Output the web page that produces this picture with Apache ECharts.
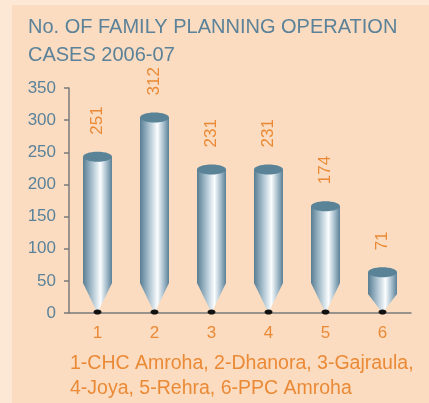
<!DOCTYPE html>
<html>
<head>
<meta charset="utf-8">
<script src="https://cdn.jsdelivr.net/npm/echarts@6/dist/echarts.min.js"></script>
<style>
  html, body { margin: 0; padding: 0; background: #fde7d5; }
  #main { width: 429px; height: 403px; }
</style>
</head>
<body>
<div id="main"></div>
<script>
var categories = ['1', '2', '3', '4', '5', '6'];
var cases = [251, 312, 231, 231, 174, 71];
var yTicks = [0, 50, 100, 150, 200, 250, 300, 350];
var titleText = 'No. OF FAMILY PLANNING OPERATION\nCASES 2006-07';
var noteText = '1-CHC Amroha, 2-Dhanora, 3-Gajraula,\n4-Joya, 5-Rehra, 6-PPC Amroha';

var blue = '#5b8299';
var orange = '#ea8a36';
var font = '"Liberation Sans", Arial, sans-serif';

var myChart = echarts.init(document.getElementById('main'));

// pencil shaped cylinder: cap, body, cone tip, black dot
function renderPencil(params, api) {
  var idx = api.value(0);
  var top = api.coord([idx, api.value(1)]);
  var base = api.coord([idx, 0]);
  var cx = top[0];
  var w = 29, rx = w / 2, ry = 5;
  var capY = top[1] + ry;
  var h = base[1] - capY;
  var cone = Math.min(30, h * 0.47);
  var tipStart = base[1] - cone;
  var grad = new echarts.graphic.LinearGradient(0, 0, 1, 0, [
    { offset: 0, color: '#587d92' },
    { offset: 0.3, color: '#a7bfcd' },
    { offset: 0.6, color: '#fbfdfe' },
    { offset: 0.82, color: '#a2bbca' },
    { offset: 1, color: '#5b8096' }
  ]);
  return {
    type: 'group',
    children: [
      {
        type: 'polygon',
        shape: { points: [[cx - rx, capY], [cx - rx, tipStart], [cx, base[1]], [cx + rx, tipStart], [cx + rx, capY]] },
        style: { fill: grad }
      },
      {
        type: 'ellipse',
        shape: { cx: cx, cy: capY, rx: rx, ry: ry },
        style: { fill: '#5a8398' }
      },
      {
        type: 'ellipse',
        shape: { cx: cx, cy: base[1] - 1, rx: 4, ry: 2.6 },
        style: { fill: '#111111' }
      },
      {
        type: 'text',
        x: cx,
        y: top[1] - 17,
        rotation: Math.PI / 2,
        style: {
          text: String(api.value(1)),
          fill: orange,
          font: '17px ' + font,
          textAlign: 'left',
          textVerticalAlign: 'middle'
        }
      }
    ]
  };
}

var option = {
  backgroundColor: '#fde7d5',
  animation: false,
  graphic: [
    {
      type: 'rect',
      shape: { x: 12, y: 5, width: 429, height: 403 },
      style: { fill: '#fbdcc0' },
      z: -10
    },
    {
      type: 'text',
      left: 70,
      top: 351,
      style: {
        text: noteText,
        fill: orange,
        font: '19.5px ' + font,
        lineHeight: 25
      }
    }
  ],
  title: {
    text: titleText,
    left: 23,
    top: 8,
    textStyle: {
      color: blue,
      fontFamily: font,
      fontSize: 20,
      fontWeight: 'normal',
      lineHeight: 28
    }
  },
  grid: { left: 69, right: 18, top: 88, bottom: 90 },
  xAxis: {
    type: 'category',
    data: categories,
    axisLine: { lineStyle: { color: '#7b7b7b', width: 1.5 } },
    axisTick: { length: 5, lineStyle: { color: '#7b7b7b', width: 1.5 } },
    axisLabel: { color: orange, fontSize: 17, fontFamily: font, margin: 12 }
  },
  yAxis: {
    type: 'value',
    min: 0,
    max: yTicks[yTicks.length - 1],
    interval: yTicks[1] - yTicks[0],
    splitLine: { show: false },
    axisLine: { show: true, lineStyle: { color: '#7b7b7b', width: 1.5 } },
    axisTick: { show: true, length: 5, lineStyle: { color: '#7b7b7b', width: 1.5 } },
    axisLabel: { color: blue, fontSize: 17, fontFamily: font, margin: 13 }
  },
  series: [{
    type: 'custom',
    renderItem: renderPencil,
    data: cases.map(function (v, i) { return [i, v]; }),
    encode: { x: 0, y: 1 }
  }]
};
myChart.setOption(option);
</script>
</body>
</html>
